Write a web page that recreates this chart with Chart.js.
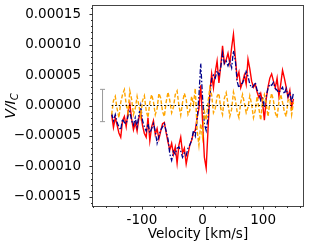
<!DOCTYPE html>
<html>
<head>
<meta charset="utf-8">
<script src="https://cdn.jsdelivr.net/npm/chart.js@4"></script>
<style>
  html, body { margin: 0; padding: 0; background: #fff; }
  #c { display: block; }
</style>
</head>
<body>
<canvas id="c" width="309" height="245"></canvas>
<script>
/* Stokes V profiles, values in units of 1e-5 */
var velocity = [-150, -147, -144, -141, -138, -135, -132, -129, -126, -123,
  -120, -117, -114, -111, -108, -105, -102, -99, -96, -93,
  -90, -87, -84, -81, -78, -75, -72, -69, -66, -63,
  -60, -57, -54, -51, -48, -45, -42, -39, -36, -33,
  -30, -27, -24, -21, -18, -15, -12, -9, -6, -3,
  0, 3, 6, 9, 12, 15, 18, 21, 24, 27,
  30, 33, 36, 39, 42, 45, 48, 51, 54, 57,
  60, 63, 66, 69, 72, 75, 78, 81, 84, 87,
  90, 93, 96, 99, 102, 105, 108, 111, 114, 117,
  120, 123, 126, 129, 132, 135, 138, 141, 144, 147, 150];

var redV = [-1.5, -3.6, -2.0, -3.2, -4.5, -5.2, -2.5, -1.8, -3.5, -1.0,
  0.3, -2.2, -4.0, -2.8, -4.2, -2.0, -1.2, -3.3, -4.6, -5.2,
  -2.0, -5.8, -3.5, -2.5, -4.8, -3.8, -5.5, -4.2, -3.0, -2.8,
  -4.5, -6.0, -7.3, -6.2, -8.0, -6.8, -9.5, -6.5, -5.2, -7.8,
  -7.0, -9.6, -8.0, -6.5, -5.7, -4.5, -4.1, -2.0, -0.5, 3.3,
  -2.5, -8.5, -10.3, -4.0, 2.0, 5.2, 2.9, 5.5, 7.3, 3.7,
  6.5, 9.8, 6.9, 7.5, 8.6, 6.9, 9.5, 11.7, 8.0, 4.5,
  5.5, 2.9, 3.8, 5.0, 3.5, 7.6, 6.0, 4.0, 3.0, 3.5,
  2.2, 1.3, 2.0, 0.5, -2.4, 1.0, 3.0, 4.5, 5.2, 4.0,
  2.9, 4.5, 1.5, 3.5, 5.8, 4.5, 3.0, 1.3, 2.5, -0.3, 1.1];

var blueV = [-1.3, -2.5, -1.5, -2.8, -3.5, -4.0, -2.2, -2.8, -3.0, -1.8,
  -1.0, -2.5, -3.2, -2.0, -3.5, -1.5, 0.0, -2.5, -3.5, -4.2,
  -3.0, -4.5, -3.8, -3.0, -4.2, -6.2, -5.0, -4.0, -3.5, -3.0,
  -4.2, -5.5, -8.0, -9.0, -7.5, -8.0, -7.0, -6.8, -7.5, -8.5,
  -7.8, -8.2, -7.0, -6.5, -5.7, -4.1, -5.0, -2.5, 1.5, 6.9,
  1.3, -3.0, -4.1, -2.0, 1.5, 4.4, 5.0, 4.5, 5.7, 5.0,
  6.2, 8.6, 6.9, 7.3, 6.5, 7.3, 6.2, 9.0, 7.5, 4.0,
  2.9, 3.5, 3.7, 4.5, 5.6, 4.8, 3.5, 2.9, 3.2, 3.8,
  2.5, 2.2, 0.8, 1.2, -0.3, 1.5, 2.8, 3.5, 3.3, 3.8,
  2.8, 2.5, 2.1, 2.6, 3.0, 1.9, 2.8, 1.5, 2.2, 0.5, 2.1];

var orangeV = [-1.5, 0.8, 1.5, -0.5, -2.0, 0.5, 1.8, 2.6, 0.2, -1.2,
  2.4, 1.0, -1.5, -0.5, 1.5, 0.0, -1.8, 0.8, 1.6, -0.8,
  -2.0, 0.5, 1.8, 0.6, -1.5, -0.5, 2.0, 1.2, -1.0, -1.8,
  0.6, 2.2, 0.8, -1.2, -0.3, 1.8, 2.4, 0.0, -1.6, 0.5,
  2.0, 1.0, -1.5, -0.8, 1.5, 0.2, 2.8, -4.0, -6.5, -3.0,
  -5.2, -1.0, -2.4, 0.5, 2.9, 1.8, -1.2, -0.5, 1.5, 2.0,
  -0.5, -1.5, 1.2, 2.1, 0.3, -1.8, -0.6, 2.2, 1.0, -1.0,
  -2.0, 0.5, 1.8, 0.4, -1.2, -0.3, 1.6, 0.2, -2.0, -0.8,
  1.5, -0.5, -2.4, 0.8, 1.8, 0.3, -1.8, 0.5, 2.0, 0.8,
  -1.2, -2.0, 0.6, 1.8, 0.5, -1.0, -1.8, 0.8, 1.0, -1.5, 0.5];

/* representative error bar and zero level */
var errX = -165;
var errHalf = 2.65;
var zeroSpan = [-150, 150];

var xTicks = [-100, 0, 100];
var yTicks = [-15, -10, -5, 0, 5, 10, 15];

var SCALE = 1e-5;
var FONT = 'DejaVu Sans';

function pts(vals) {
  return velocity.map(function (v, i) { return { x: v, y: vals[i] * SCALE }; });
}

function fmtY(v) {
  var s = (Math.abs(v) < 1e-12 ? 0 : v).toFixed(5);
  return s.replace('-', '\u2212');
}

/* frame, ticks and axis titles, drawn like matplotlib */
var frame = {
  id: 'frame',
  afterDraw: function (chart) {
    var ctx = chart.ctx, a = chart.chartArea;
    var xs = chart.scales.x, ys = chart.scales.y;
    ctx.save();
    ctx.strokeStyle = '#444';
    ctx.lineWidth = 1;
    ctx.strokeRect(Math.round(a.left) - 0.5, Math.round(a.top) + 0.5,
      Math.round(a.right - a.left) + 1, Math.round(a.bottom - a.top));

    ctx.strokeStyle = '#333';
    ctx.beginPath();
    xTicks.forEach(function (t) {
      var px = Math.round(xs.getPixelForValue(t)) + 0.5;
      ctx.moveTo(px, a.bottom); ctx.lineTo(px, a.bottom + 3.5);
    });
    yTicks.forEach(function (t) {
      var py = Math.round(ys.getPixelForValue(t * SCALE)) + 0.5;
      ctx.moveTo(a.left, py); ctx.lineTo(a.left - 3.5, py);
    });
    for (var mx = -180; mx <= 160; mx += 20) {
      if (mx % 100 === 0) continue;
      var px = Math.round(xs.getPixelForValue(mx)) + 0.5;
      ctx.moveTo(px, a.bottom); ctx.lineTo(px, a.bottom + 2);
    }
    for (var my = -16; my <= 16; my++) {
      if (my % 5 === 0) continue;
      var py = Math.round(ys.getPixelForValue(my * SCALE)) + 0.5;
      ctx.moveTo(a.left, py); ctx.lineTo(a.left - 2, py);
    }
    ctx.stroke();

    ctx.fillStyle = '#000';
    ctx.font = '13.5px "' + FONT + '"';
    ctx.textAlign = 'center';
    ctx.textBaseline = 'middle';
    ctx.fillText('Velocity [km/s]', (a.left + a.right) / 2, 234);

    ctx.translate(15, 106);
    ctx.rotate(-Math.PI / 2);
    ctx.textAlign = 'left';
    ctx.textBaseline = 'alphabetic';
    ctx.font = 'italic 14px "' + FONT + '"';
    var main = 'V/I';
    var w1 = ctx.measureText(main).width;
    ctx.font = 'italic 10px "' + FONT + '"';
    var w2 = ctx.measureText('C').width;
    var x0 = -(w1 + w2) / 2;
    ctx.font = 'italic 14px "' + FONT + '"';
    ctx.fillText(main, x0, 0);
    ctx.font = 'italic 10px "' + FONT + '"';
    ctx.fillText('C', x0 + w1, 3);
    ctx.restore();
  }
};

new Chart(document.getElementById('c'), {
  type: 'line',
  data: {
    datasets: [
      { label: 'red', data: pts(redV), borderColor: '#ff0000', borderWidth: 1.4, pointRadius: 0, order: 4 },
      { label: 'blue', data: pts(blueV), borderColor: '#00008b', borderWidth: 1.3, borderDash: [5, 2, 1.5, 2], pointRadius: 0, order: 3 },
      { label: 'orange', data: pts(orangeV), borderColor: '#ffa500', borderWidth: 1.4, borderDash: [4, 2], pointRadius: 0, order: 2 },
      { label: 'zero', data: zeroSpan.map(function (v) { return { x: v, y: 0 }; }), borderColor: '#000', borderWidth: 1.1, borderDash: [1.5, 2], pointRadius: 0, order: 1 },
      { label: 'err', data: [{ x: errX, y: -errHalf * SCALE }, { x: errX, y: errHalf * SCALE }], borderColor: '#999', borderWidth: 1, pointStyle: 'line', pointRadius: 2.5, pointBorderColor: '#999', pointBorderWidth: 1, order: 0 }
    ]
  },
  options: {
    responsive: false,
    devicePixelRatio: 1,
    animation: false,
    events: [],
    layout: { padding: { top: 4, right: 6, left: 0, bottom: 0 } },
    plugins: { legend: { display: false }, tooltip: { enabled: false } },
    scales: {
      x: {
        type: 'linear', min: -180.75, max: 165.75,
        afterFit: function (s) { s.height = 39; s.paddingLeft = 0; s.paddingRight = 0; },
        afterBuildTicks: function (s) { s.ticks = xTicks.map(function (v) { return { value: v }; }); },
        grid: { display: false }, border: { display: false },
        ticks: { padding: -2, color: '#000', font: { family: FONT, size: 13.5 }, maxRotation: 0 }
      },
      y: {
        type: 'linear', min: -0.000165, max: 0.000165,
        afterFit: function (s) { s.width = 93; s.paddingTop = 0; s.paddingBottom = 0; },
        afterBuildTicks: function (s) { s.ticks = yTicks.map(function (v) { return { value: v * SCALE }; }); },
        grid: { display: false }, border: { display: false },
        ticks: { padding: 4, color: '#000', font: { family: FONT, size: 13.5 }, callback: fmtY }
      }
    }
  },
  plugins: [frame]
});
</script>
</body>
</html>
